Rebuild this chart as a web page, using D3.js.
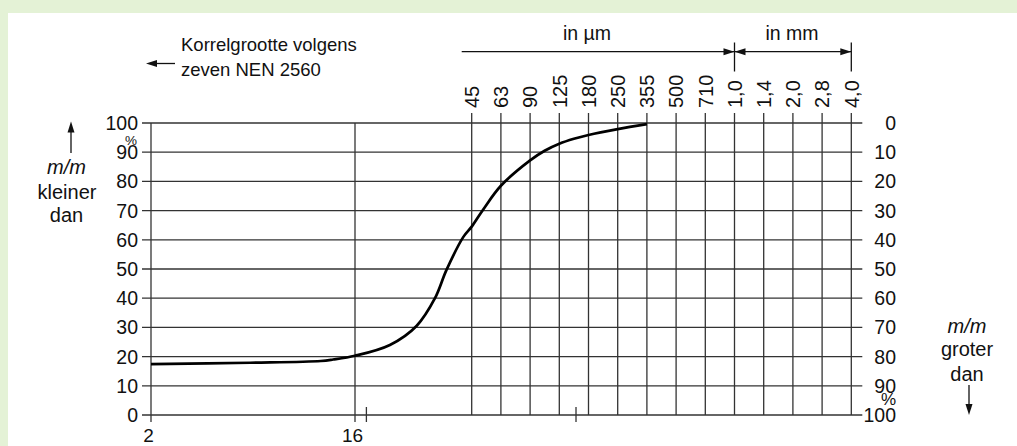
<!DOCTYPE html>
<html>
<head>
<meta charset="utf-8">
<script src="https://cdn.jsdelivr.net/npm/d3@7"></script>
<style>
  html, body { margin: 0; padding: 0; background: #e4f2d6; }
  svg { display: block; }
  text { font-family: "Liberation Sans", Arial, sans-serif; fill: #111; }
</style>
</head>
<body>
<svg id="chart" width="1017" height="446"></svg>
<script>
// Sieve sizes (µm) along the top axis and their printed labels
const sieveSizes = [45, 63, 90, 125, 180, 250, 355, 500, 710, 1000, 1400, 2000, 2800, 4000];
const sieveLabels = ["45", "63", "90", "125", "180", "250", "355", "500", "710", "1,0", "1,4", "2,0", "2,8", "4,0"];
// Fine sizes (µm) along the bottom axis
const fineSizes = [2, 16];
const fineLabels = ["2", "16"];
const bottomMarks = [17.7, 154];
// Percentage ticks
const pctTicks = [0, 10, 20, 30, 40, 50, 60, 70, 80, 90, 100];
// Grading curve: grain size (µm), cumulative % passing
const curveSize = [2, 5.5, 11.3, 12.8, 16, 21.8, 27.6, 32.5, 36, 41.8, 45, 51.4, 63, 90, 106, 125, 150, 180, 250, 355];
const curvePct  = [17.4, 17.9, 18.5, 19.0, 20.3, 24, 30.5, 40, 49.7, 61, 64.5, 70.4, 78.5, 87.2, 90.5, 92.9, 94.6, 95.9, 97.9, 99.6];

const svg = d3.select("#chart");

// white panel
svg.append("rect").attr("x", 8).attr("y", 13).attr("width", 1009).attr("height", 433).attr("fill", "#fff");

const plotLeft = 151, plotTop = 123, plotBottom = 415, step = 29.2;
const x0 = 471.7;
const x = d3.scaleLog()
  .domain([...fineSizes, ...sieveSizes])
  .range([plotLeft, 355, ...sieveSizes.map((d, i) => x0 + i * step)]);
const y = d3.scaleLinear().domain([0, 100]).range([plotBottom, plotTop]);
const plotRight = x(4000);

const grid = svg.append("g").attr("stroke", "#333").attr("stroke-width", 1.3).attr("fill", "none");

// horizontal grid lines (with small ticks outside the frame)
grid.selectAll("line.h").data(pctTicks).join("line")
  .attr("x1", plotLeft - 9).attr("x2", plotRight + 11)
  .attr("y1", d => y(d)).attr("y2", d => y(d));

// left frame and 16 µm line
grid.selectAll("line.f").data(fineSizes).join("line")
  .attr("x1", d => x(d)).attr("x2", d => x(d))
  .attr("y1", plotTop).attr("y2", plotBottom + 7);

// sieve lines
grid.selectAll("line.s").data(sieveSizes).join("line")
  .attr("x1", d => x(d)).attr("x2", d => x(d))
  .attr("y1", plotTop - 10).attr("y2", plotBottom);

// extra bottom marks
grid.selectAll("line.m").data(bottomMarks).join("line")
  .attr("x1", d => x(d)).attr("x2", d => x(d))
  .attr("y1", plotBottom - 8).attr("y2", plotBottom + 7);

// left percentage labels
svg.append("g").selectAll("text").data(pctTicks).join("text")
  .attr("x", plotLeft - 13).attr("y", d => y(d)).attr("dy", "0.36em")
  .attr("text-anchor", "end").attr("font-size", 19.5)
  .text(d => d);
svg.append("text").attr("x", 131).attr("y", 144.5)
  .attr("text-anchor", "middle").attr("font-size", 13.5).text("%");

// right percentage labels (retained)
svg.append("g").selectAll("text").data(pctTicks).join("text")
  .attr("x", 896).attr("y", d => y(100 - d)).attr("dy", "0.36em")
  .attr("text-anchor", "end").attr("font-size", 19.5)
  .text(d => d);
svg.append("text").attr("x", 896).attr("y", 405)
  .attr("text-anchor", "end").attr("font-size", 17).text("%");

// top sieve labels, rotated
svg.append("g").selectAll("text").data(sieveSizes).join("text")
  .attr("transform", d => `translate(${x(d)},108) rotate(-90)`)
  .attr("dy", "0.36em").attr("text-anchor", "start").attr("font-size", 20)
  .text((d, i) => sieveLabels[i]);

// bottom labels
svg.append("g").selectAll("text").data(fineSizes).join("text")
  .attr("x", d => x(d) - 2.5).attr("y", 442)
  .attr("text-anchor", "middle").attr("font-size", 19)
  .text((d, i) => fineLabels[i]);

// grading curve
const line = d3.line().x(d => x(d[0])).y(d => y(d[1])).curve(d3.curveCatmullRom.alpha(0.5));
svg.append("path")
  .datum(curveSize.map((s, i) => [s, curvePct[i]]))
  .attr("d", line).attr("fill", "none").attr("stroke", "#000").attr("stroke-width", 2.7)
  .attr("stroke-linejoin", "round");

// arrowhead helper
function head(g, tx, ty, dir, len = 11, w = 3.5) {
  const a = { r: [-1, 0], l: [1, 0], u: [0, 1], d: [0, -1] }[dir];
  const bx = tx + a[0] * len, by = ty + a[1] * len;
  const px = -a[1] * w, py = a[0] * w;
  g.append("path").attr("d", `M${tx},${ty}L${bx + px},${by + py}L${bx - px},${by - py}Z`).attr("fill", "#111");
}

const ann = svg.append("g");
const arrY = 51.7;
const xm = x(1000);
ann.append("line").attr("x1", x(45) - 10).attr("x2", xm).attr("y1", arrY).attr("y2", arrY).attr("stroke", "#111").attr("stroke-width", 1.3);
ann.append("line").attr("x1", xm).attr("x2", plotRight).attr("y1", arrY).attr("y2", arrY).attr("stroke", "#111").attr("stroke-width", 1.3);
head(ann, xm, arrY, "r");
head(ann, xm, arrY, "l");
head(ann, plotRight, arrY, "r");
[xm, plotRight].forEach(v => ann.append("line").attr("x1", v).attr("x2", v).attr("y1", 42.5).attr("y2", 71.5).attr("stroke", "#111").attr("stroke-width", 1.3));
ann.append("text").attr("x", 587).attr("y", 40).attr("text-anchor", "middle").attr("font-size", 19.5).text("in µm");
ann.append("text").attr("x", 792).attr("y", 40).attr("text-anchor", "middle").attr("font-size", 19.5).text("in mm");

// sieve standard note
ann.append("text").attr("x", 181).attr("y", 50.5).attr("font-size", 18.5).text("Korrelgrootte volgens");
ann.append("text").attr("x", 181).attr("y", 75.5).attr("font-size", 18.5).text("zeven NEN 2560");
ann.append("line").attr("x1", 150).attr("x2", 175).attr("y1", 63.5).attr("y2", 63.5).attr("stroke", "#111").attr("stroke-width", 1.3);
head(ann, 146, 63.5, "l");

// left axis title
ann.append("line").attr("x1", 71).attr("x2", 71).attr("y1", 126).attr("y2", 153).attr("stroke", "#111").attr("stroke-width", 1.3);
head(ann, 71, 121.5, "u");
ann.append("text").attr("x", 66.5).attr("y", 173.5).attr("text-anchor", "middle").attr("font-size", 20).attr("font-style", "italic").text("m/m");
ann.append("text").attr("x", 67).attr("y", 198.5).attr("text-anchor", "middle").attr("font-size", 20).text("kleiner");
ann.append("text").attr("x", 66.5).attr("y", 222).attr("text-anchor", "middle").attr("font-size", 20).text("dan");

// right axis title
ann.append("text").attr("x", 967).attr("y", 332.5).attr("text-anchor", "middle").attr("font-size", 20).attr("font-style", "italic").text("m/m");
ann.append("text").attr("x", 967).attr("y", 356).attr("text-anchor", "middle").attr("font-size", 20).text("groter");
ann.append("text").attr("x", 967).attr("y", 380.5).attr("text-anchor", "middle").attr("font-size", 20).text("dan");
ann.append("line").attr("x1", 969).attr("x2", 969).attr("y1", 385).attr("y2", 410).attr("stroke", "#111").attr("stroke-width", 1.3);
head(ann, 969, 415, "d");
</script>
</body>
</html>
